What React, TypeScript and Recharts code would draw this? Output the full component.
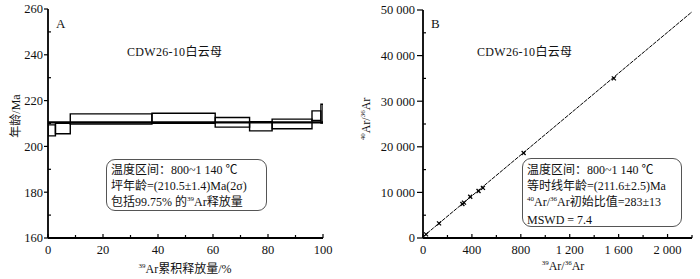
import React from 'react';
import {
  ComposedChart,
  ScatterChart,
  Scatter,
  Line,
  XAxis,
  YAxis,
  ReferenceArea,
  ReferenceLine,
} from 'recharts';

// Panel A: age spectrum steps (cumulative 39Ar %, apparent age, 2 sigma error)
const stepStart = [0, 2.7, 8.1, 37.8, 60.8, 73.3, 81.5, 96.0, 99.25];
const stepEnd = [2.7, 8.1, 37.8, 60.8, 73.3, 81.5, 96.0, 99.25, 100];
const stepAge = [207.0, 207.8, 212.0, 212.3, 210.5, 208.8, 209.8, 213.4, 214.3];
const stepErr = [2.4, 2.3, 2.2, 2.2, 2.1, 2.0, 2.1, 2.1, 4.1];
const plateauAge = 210.5;

const ageMajorTicks = [160, 180, 200, 220, 240, 260];
const ageMinorTicks = [170, 190, 210, 230, 250];
const pctMajorTicks = [0, 20, 40, 60, 80, 100];
const pctMinorTicks = [10, 30, 50, 70, 90];

// Panel B: isochron points
const ar39Ar36 = [25, 131, 322, 335, 386, 454, 490, 823, 1561];
const ar40Ar36 = [800, 3200, 7450, 7750, 9050, 10300, 11000, 18650, 35000];
const isoIntercept = 283;
const isoEndX = 2200;
const isoEndY = 49600;

const ratioXMajorTicks = [0, 400, 800, 1200, 1600, 2000];
const ratioXMinorTicks = [200, 600, 1000, 1400, 1800, 2200];
const ratioYMajorTicks = [0, 10000, 20000, 30000, 40000, 50000];
const ratioYMinorTicks = [5000, 15000, 25000, 35000, 45000];

const serif = "'Liberation Serif', 'Noto Sans CJK SC', serif";

const plateauRows = [
  { pct: 0, age: plateauAge },
  { pct: 100, age: plateauAge },
];
const isoPoints = ar39Ar36.map((x, i) => ({ x, y: ar40Ar36[i] }));

// thousands with a space, e.g. 10 000
const spaced = (v: number) => String(v).replace(/\B(?=(\d{3})+(?!\d))/g, ' ');

const makeYTick = (major: number[], fmt: (v: number) => string, len: number, gap: number) =>
  (props: any) => {
    const { x, y, payload } = props;
    const isMajor = major.includes(payload.value);
    return (
      <g>
        {isMajor ? (
          <line x1={x - len} x2={x} y1={y} y2={y} stroke="#000" strokeWidth={1.2} />
        ) : (
          <line x1={x} x2={x + 3} y1={y} y2={y} stroke="#000" strokeWidth={1.2} />
        )}
        {isMajor && (
          <text x={x - gap} y={y} dy="0.35em" textAnchor="end" fontSize={12.5} fontFamily={serif} fill="#111">
            {fmt(payload.value)}
          </text>
        )}
      </g>
    );
  };

const makeXTick = (major: number[], fmt: (v: number) => string) => (props: any) => {
  const { x, y, payload } = props;
  const isMajor = major.includes(payload.value);
  return (
    <g>
      <line x1={x} x2={x} y1={y} y2={y - (isMajor ? 4 : 3)} stroke="#000" strokeWidth={1.2} />
      {isMajor && (
        <text x={x} y={y + 16} textAnchor="middle" fontSize={12.5} fontFamily={serif} fill="#111">
          {fmt(payload.value)}
        </text>
      )}
    </g>
  );
};

const Cross = (props: any) => {
  const { cx, cy } = props;
  return (
    <g stroke="#000" strokeWidth={1.3}>
      <line x1={cx - 2} x2={cx + 2} y1={cy - 2} y2={cy + 2} />
      <line x1={cx - 2} x2={cx + 2} y1={cy + 2} y2={cy - 2} />
    </g>
  );
};

const Sup = ({ children }: { children: React.ReactNode }) => (
  <span style={{ fontSize: 7, position: 'relative', top: -5 }}>{children}</span>
);

const abs = (left: number, top: number, extra: React.CSSProperties = {}): React.CSSProperties => ({
  position: 'absolute',
  left,
  top,
  whiteSpace: 'nowrap',
  ...extra,
});

const boxStyle: React.CSSProperties = {
  position: 'absolute',
  border: '1px solid #555',
  borderRadius: 9,
  boxSizing: 'border-box',
  background: '#fff',
};

const lineStyle: React.CSSProperties = { fontSize: 12, lineHeight: '16px', color: '#111' };

const App = () => {
  const ageTicks = [...ageMajorTicks, ...ageMinorTicks].sort((a, b) => a - b);
  const pctTicks = [...pctMajorTicks, ...pctMinorTicks].sort((a, b) => a - b);
  const rxTicks = [...ratioXMajorTicks, ...ratioXMinorTicks].sort((a, b) => a - b);
  const ryTicks = [...ratioYMajorTicks, ...ratioYMinorTicks].sort((a, b) => a - b);

  return (
    <div
      style={{
        position: 'absolute',
        left: 0,
        top: 0,
        width: 700,
        height: 279,
        background: '#fff',
        fontFamily: serif,
        color: '#111',
      }}
    >
      {/* Panel A */}
      <div style={abs(0, 0)}>
        <ComposedChart
          width={340}
          height={279}
          data={plateauRows}
          margin={{ top: 9, right: 17, bottom: 6, left: 0 }}
        >
          <XAxis
            dataKey="pct"
            type="number"
            domain={[0, 100]}
            ticks={pctTicks}
            interval={0}
            allowDataOverflow
            height={35}
            tickSize={0}
            tickMargin={0}
            tickLine={false}
            axisLine={{ stroke: '#000', strokeWidth: 1.8 }}
            tick={makeXTick(pctMajorTicks, (v) => String(v))}
          />
          <XAxis
            xAxisId="top"
            orientation="top"
            type="number"
            domain={[0, 100]}
            height={0}
            tick={false}
            tickLine={false}
            axisLine={{ stroke: '#000', strokeWidth: 1.8 }}
          />
          <YAxis
            type="number"
            domain={[160, 260]}
            ticks={ageTicks}
            interval={0}
            allowDataOverflow
            width={48}
            tickSize={0}
            tickMargin={0}
            tickLine={false}
            axisLine={{ stroke: '#000', strokeWidth: 1.8 }}
            tick={makeYTick(ageMajorTicks, (v) => String(v), 4, 5)}
          />
          <YAxis
            yAxisId="right"
            orientation="right"
            type="number"
            domain={[160, 260]}
            width={0}
            tick={false}
            tickLine={false}
            axisLine={{ stroke: '#000', strokeWidth: 1.8 }}
          />
          {stepStart.map((s, i) => (
            <ReferenceArea
              key={i}
              x1={s}
              x2={stepEnd[i]}
              y1={stepAge[i] - stepErr[i]}
              y2={stepAge[i] + stepErr[i]}
              fill="#fff"
              fillOpacity={0}
              stroke="#000"
              strokeWidth={1.4}
              strokeOpacity={1}
              ifOverflow="hidden"
            />
          ))}
          <Line
            dataKey="age"
            type="linear"
            stroke="#000"
            strokeWidth={2.2}
            dot={false}
            isAnimationActive={false}
          />
        </ComposedChart>
      </div>

      {/* Panel B */}
      <div style={abs(350, 0)}>
        <ScatterChart width={350} height={279} margin={{ top: 10, right: 8, bottom: 6, left: 0 }}>
          <XAxis
            dataKey="x"
            type="number"
            domain={[0, 2200]}
            ticks={rxTicks}
            interval={0}
            allowDataOverflow
            height={35}
            tickSize={0}
            tickMargin={0}
            tickLine={false}
            axisLine={{ stroke: '#000', strokeWidth: 1.8 }}
            tick={makeXTick(ratioXMajorTicks, spaced)}
          />
          <XAxis
            xAxisId="top"
            orientation="top"
            type="number"
            domain={[0, 2200]}
            height={0}
            tick={false}
            tickLine={false}
            axisLine={{ stroke: '#444', strokeWidth: 1.8 }}
          />
          <YAxis
            dataKey="y"
            type="number"
            domain={[0, 50000]}
            ticks={ryTicks}
            interval={0}
            allowDataOverflow
            width={73}
            tickSize={0}
            tickMargin={0}
            tickLine={false}
            axisLine={{ stroke: '#000', strokeWidth: 1.8 }}
            tick={makeYTick(ratioYMajorTicks, spaced, 6, 8)}
          />
          <YAxis
            yAxisId="right"
            orientation="right"
            type="number"
            domain={[0, 50000]}
            width={0}
            tick={false}
            tickLine={false}
            axisLine={{ stroke: '#444', strokeWidth: 1.8 }}
          />
          <ReferenceLine
            segment={[
              { x: 0, y: isoIntercept },
              { x: isoEndX, y: isoEndY },
            ]}
            stroke="#000"
            strokeWidth={1}
            strokeDasharray="4 1"
            ifOverflow="hidden"
          />
          <Scatter data={isoPoints} shape={<Cross />} isAnimationActive={false} />
        </ScatterChart>
      </div>

      {/* Panel A texts */}
      <div style={abs(56, 16, { fontSize: 13 })}>A</div>
      <div style={abs(127, 42, { fontSize: 12, letterSpacing: 0.3 })}>CDW26-10白云母</div>
      <div
        style={abs(15, 116, {
          fontSize: 12,
          transform: 'translate(-50%, -50%) rotate(-90deg)',
        })}
      >
        年龄/Ma
      </div>
      <div style={abs(185, 268, { fontSize: 12, transform: 'translate(-50%, -50%)' })}>
        <Sup>39</Sup>Ar累积释放量/%
      </div>
      <div style={{ ...boxStyle, left: 106, top: 159, width: 161, height: 52, padding: '2px 0 0 4px' }}>
        <div style={lineStyle}>温度区间：800~1 140 ℃</div>
        <div style={lineStyle}>坪年龄=(210.5±1.4)Ma(2σ)</div>
        <div style={lineStyle}>
          包括99.75% 的<Sup>39</Sup>Ar释放量
        </div>
      </div>

      {/* Panel B texts */}
      <div style={abs(431, 16, { fontSize: 13 })}>B</div>
      <div style={abs(477, 42, { fontSize: 12, letterSpacing: 0.3 })}>CDW26-10白云母</div>
      <div
        style={abs(366, 119, {
          fontSize: 12,
          transform: 'translate(-50%, -50%) rotate(-90deg)',
        })}
      >
        <Sup>40</Sup>Ar/<Sup>36</Sup>Ar
      </div>
      <div style={abs(563, 266, { fontSize: 12, transform: 'translate(-50%, -50%)' })}>
        <Sup>39</Sup>Ar/<Sup>36</Sup>Ar
      </div>
      <div style={{ ...boxStyle, left: 522, top: 158, width: 160, height: 69, padding: '3px 0 0 4px' }}>
        <div style={lineStyle}>温度区间：800~1 140 ℃</div>
        <div style={lineStyle}>等时线年龄=(211.6±2.5)Ma</div>
        <div style={lineStyle}>
          <Sup>40</Sup>Ar/<Sup>36</Sup>Ar初始比值=283±13
        </div>
        <div style={lineStyle}>MSWD = 7.4</div>
      </div>
    </div>
  );
};

export default App;
